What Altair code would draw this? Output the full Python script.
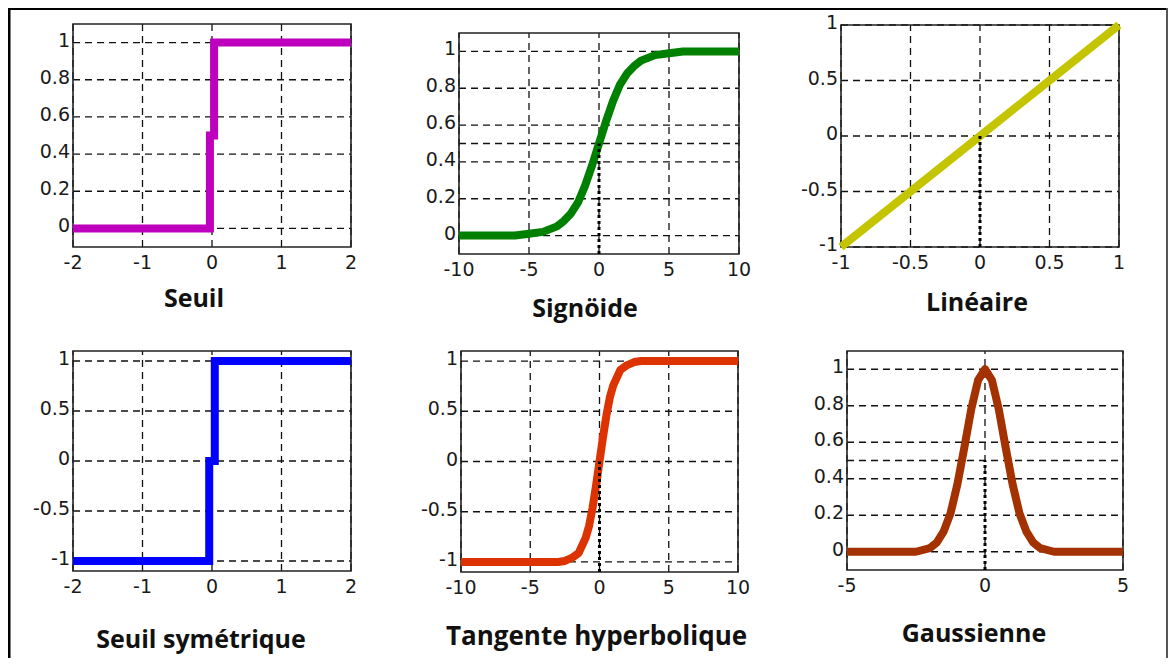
import altair as alt
import pandas as pd

# ---------------- data ----------------
seuil_x = [-2, -0.03, -0.03, 0.03, 0.03, 2]
seuil_y = [0, 0, 0.5, 0.5, 1, 1]

sigmoide_x = [-10, -9, -8, -7, -6, -5, -4, -3, -2.5, -2, -1.5, -1, -0.5, 0,
              0.5, 1, 1.5, 2, 2.5, 3, 4, 5, 6, 7, 8, 9, 10]
sigmoide_y = [0.0, 0.0, 0.0, 0.0, 0.0, 0.01, 0.02, 0.05, 0.08, 0.12, 0.18, 0.27, 0.38, 0.5,
              0.62, 0.73, 0.82, 0.88, 0.92, 0.95, 0.98, 0.99, 1.0, 1.0, 1.0, 1.0, 1.0]

lineaire_x = [-1, -0.5, 0, 0.5, 1]
lineaire_y = [-1, -0.5, 0, 0.5, 1]

seuil_sym_x = [-2, -0.04, -0.04, 0.04, 0.04, 2]
seuil_sym_y = [-1, -1, 0, 0, 1, 1]

tanh_x = [-10, -8, -6, -4, -3, -2.5, -2, -1.5, -1, -0.75, -0.5, -0.25, 0,
          0.25, 0.5, 0.75, 1, 1.5, 2, 2.5, 3, 4, 6, 8, 10]
tanh_y = [-1.0, -1.0, -1.0, -1.0, -1.0, -0.99, -0.96, -0.91, -0.76, -0.64, -0.46, -0.24, 0.0,
          0.24, 0.46, 0.64, 0.76, 0.91, 0.96, 0.99, 1.0, 1.0, 1.0, 1.0, 1.0]

gauss_x = [-5, -4, -3, -2.5, -2, -1.75, -1.5, -1.25, -1, -0.75, -0.5, -0.25, 0,
           0.25, 0.5, 0.75, 1, 1.25, 1.5, 1.75, 2, 2.5, 3, 4, 5]
gauss_y = [0.0, 0.0, 0.0, 0.0, 0.02, 0.05, 0.11, 0.21, 0.37, 0.57, 0.78, 0.94, 1.0,
           0.94, 0.78, 0.57, 0.37, 0.21, 0.11, 0.05, 0.02, 0.0, 0.0, 0.0, 0.0]

captions = ["Seuil", "Signöide", "Linéaire", "Seuil symétrique",
            "Tangente hyperbolique", "Gaussienne"]

ticks_x_2 = [-2, -1, 0, 1, 2]
ticks_x_10 = [-10, -5, 0, 5, 10]
ticks_x_1 = [-1, -0.5, 0, 0.5, 1]
ticks_x_5 = [-5, 0, 5]
ticks_y_01 = [0, 0.2, 0.4, 0.6, 0.8, 1]
ticks_y_01_half = [0, 0.2, 0.4, 0.5, 0.6, 0.8, 1]
ticks_y_11 = [-1, -0.5, 0, 0.5, 1]

# ---------------- layout / style ----------------
W, H = 1160, 650
LABEL_FONT = "DejaVu Sans"
LABEL_SIZE = 19
LABEL_COLOR = "#1a1a1a"
CAPTION_FONT = "Open Sans"
CAPTION_SIZE = 25
GRID = dict(stroke="#111", strokeWidth=1.3, strokeDash=[7, 5])


def panel(cx, cy, color, join, xdom, ydom, xticks, yticks, xgrid, ygrid,
          marker_top, caption, box, cap_dx, cap_dy, cap_size=CAPTION_SIZE):
    x0, x1, yb, yt = box
    xsc = alt.Scale(domain=xdom, range=[x0, x1], nice=False, zero=False)
    ysc = alt.Scale(domain=ydom, range=[yb, yt], nice=False, zero=False)

    def X(f):
        return alt.X(f, scale=xsc, axis=None)

    def Y(f):
        return alt.Y(f, scale=ysc, axis=None)

    hgrid = alt.Chart(pd.DataFrame({"v": ygrid, "a": xdom[0], "b": xdom[1]})).mark_rule(
        **GRID).encode(y=Y("v:Q"), x=X("a:Q"), x2="b:Q")
    vgrid = alt.Chart(pd.DataFrame({"v": xgrid, "a": ydom[0], "b": ydom[1]})).mark_rule(
        **GRID).encode(x=X("v:Q"), y=Y("a:Q"), y2="b:Q")
    frame = alt.Chart(pd.DataFrame({"x0": [xdom[0]], "x1": [xdom[1]],
                                    "y0": [ydom[0]], "y1": [ydom[1]]})).mark_rect(
        fillOpacity=0, stroke="#222", strokeWidth=1.6
    ).encode(x=X("x0:Q"), x2="x1:Q", y=Y("y0:Q"), y2="y1:Q")

    xlab = alt.Chart(pd.DataFrame({"v": xticks, "a": ydom[0]})).transform_calculate(
        lab="'' + datum.v"
    ).mark_text(font=LABEL_FONT, fontSize=LABEL_SIZE, color=LABEL_COLOR,
                align="center", baseline="top", dy=7
    ).encode(x=X("v:Q"), y=Y("a:Q"), text="lab:N")
    ylab = alt.Chart(pd.DataFrame({"v": yticks, "a": xdom[0]})).transform_calculate(
        lab="'' + datum.v"
    ).mark_text(font=LABEL_FONT, fontSize=LABEL_SIZE, color=LABEL_COLOR,
                align="right", baseline="middle", dx=-3, dy=-2
    ).encode(y=Y("v:Q"), x=X("a:Q"), text="lab:N")

    curve = alt.Chart(pd.DataFrame({"x": cx, "y": cy, "o": list(range(len(cx)))})).mark_line(
        color=color, strokeWidth=8, strokeJoin=join, strokeCap="butt"
    ).encode(x=X("x:Q"), y=Y("y:Q"), order="o:Q")

    layers = [hgrid, vgrid, frame, xlab, ylab, curve]
    if marker_top is not None:
        marker = alt.Chart(pd.DataFrame({"v": [0], "a": [ydom[0]], "b": [marker_top]})).mark_rule(
            stroke="#000", strokeWidth=3, strokeDash=[3, 3]
        ).encode(x=X("v:Q"), y=Y("a:Q"), y2="b:Q")
        layers.append(marker)
    cap = alt.Chart(pd.DataFrame({"t": [caption], "x": [(xdom[0] + xdom[1]) / 2],
                                  "y": [ydom[0]]})).mark_text(
        font=CAPTION_FONT, fontSize=cap_size, fontWeight="bold", color="#111",
        baseline="alphabetic", align="center", dx=cap_dx, dy=cap_dy
    ).encode(x=X("x:Q"), y=Y("y:Q"), text="t:N")
    layers.append(cap)
    return alt.layer(*layers)


p1 = panel(seuil_x, seuil_y, "#BE00BE", "miter", [-2, 2], [-0.1, 1.1], ticks_x_2, ticks_y_01,
           ticks_x_2, ticks_y_01, None, captions[0], (65, 343, 239, 16), -18, 60)
p2 = panel(sigmoide_x, sigmoide_y, "#008000", "round", [-10, 10], [-0.1, 1.1], ticks_x_10,
           ticks_y_01, ticks_x_10, ticks_y_01_half, 0.5, captions[1], (451, 731, 246, 25), -14, 63)
p3 = panel(lineaire_x, lineaire_y, "#C4C400", "round", [-1, 1], [-1, 1], ticks_x_1, ticks_y_11,
           ticks_x_1, ticks_y_11, 0, captions[2], (833, 1111, 239, 17), -3, 64)
p4 = panel(seuil_sym_x, seuil_sym_y, "#0000FF", "miter", [-2, 2], [-1.1, 1.1], ticks_x_2,
           ticks_y_11, ticks_x_2, ticks_y_11, None, captions[3], (65, 343, 563, 343), -11, 77)
p5 = panel(tanh_x, tanh_y, "#DD3300", "round", [-10, 10], [-1.1, 1.1], ticks_x_10, ticks_y_11,
           ticks_x_10, ticks_y_11, 0, captions[4], (453, 730, 564, 343), -3, 73, 26)
p6 = panel(gauss_x, gauss_y, "#A33200", "round", [-5, 5], [-0.1, 1.1], ticks_x_5, ticks_y_01,
           ticks_x_5, ticks_y_01_half, 0.5, captions[5], (839, 1115, 562, 343), -11, 72)

one = pd.DataFrame({"k": [0]})
border_top = alt.Chart(one).mark_rule(stroke="#000", strokeWidth=4).encode(
    x=alt.value(0), x2=alt.value(W), y=alt.value(0))
border_left = alt.Chart(one).mark_rule(stroke="#000", strokeWidth=5).encode(
    x=alt.value(0), y=alt.value(0), y2=alt.value(H))
border_right = alt.Chart(one).mark_rule(stroke="#555", strokeWidth=2).encode(
    x=alt.value(W - 1), y=alt.value(0), y2=alt.value(H))

chart = alt.layer(p1, p2, p3, p4, p5, p6, border_top, border_left, border_right).resolve_scale(
    x="independent", y="independent"
).properties(
    width=W, height=H, padding=0, autosize=alt.AutoSizeParams(type="none"),
    background="white"
).configure_view(stroke=None)

chart.save("out.html", embed_options={"renderer": "svg", "actions": False})
